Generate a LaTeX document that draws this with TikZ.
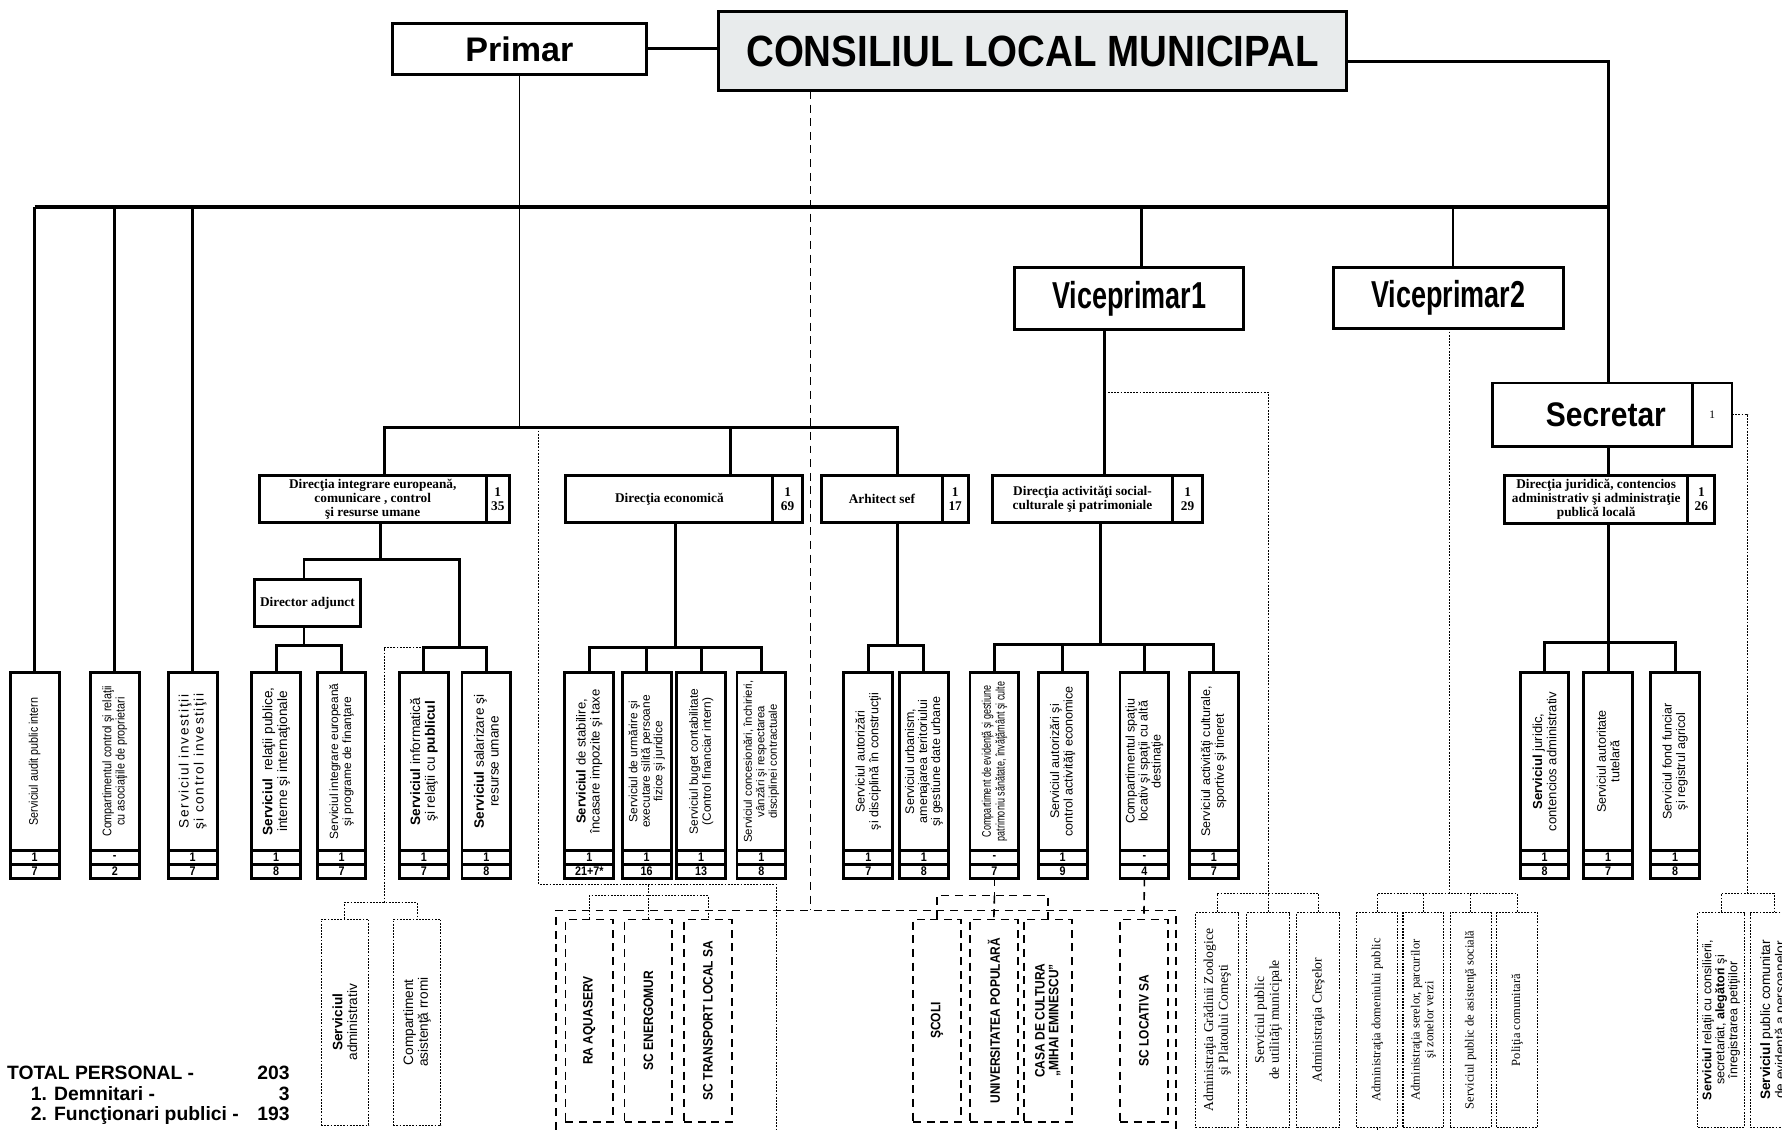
\documentclass[tikz,border=0pt]{standalone}
\usepackage{fontspec}
\setmainfont{Liberation Serif}
\setsansfont{Liberation Sans}
\newfontfamily\headsf[FakeStretch=0.88]{Liberation Sans}
\newfontfamily\narrowsf[FakeStretch=0.72]{Liberation Sans}
\newfontfamily\condsf[FakeStretch=0.86]{Liberation Sans}
\newfontfamily\widesf[LetterSpace=12]{Liberation Sans}
\usetikzlibrary{positioning}
\definecolor{councilgray}{HTML}{E8EBEC}
\newcommand{\fsz}[2]{\fontsize{#1}{#2}\selectfont}

% service box: upright frame, rotated text, two count cells below
\newcommand{\svc}[6][]{%
    \node[svcbox] (#2) at (#3,670) {};
    \node[svctext, #1] (#2t) at (#2) {#4};
    \node[svccell, below=0pt of #2] (#2a) {#5};
    \node[svccell, below=0pt of #2a] (#2b) {#6};
}
% frame with rotated text only
\newcommand{\sidebox}[5][]{%
    \node[#3] (#2) at (#4) {};
    \node[rotate=90, align=center, inner sep=0pt, #1] (#2t) at (#2) {#5};
}

\begin{document}
\begin{tikzpicture}[
                x = 1pt, y = -1pt, % pixel grid, y going down
                box/.style = {draw, line width=2.6pt, fill=white, inner sep=0pt, outer sep=0pt},
                topbox/.style = {box, align=center},
                dirbox/.style = {box, minimum height=42pt, align=center,
                    font=\rmfamily\bfseries\fsz{11.7}{12.5}},
                dircell/.style = {dirbox},
                svcbox/.style = {box, minimum width=43pt, minimum height=156pt},
                svccell/.style = {box, minimum width=43pt, minimum height=12.5pt,
                    font=\condsf\bfseries\fsz{11}{11}},
                svctext/.style = {rotate=90, align=center, inner sep=0pt,
                    font=\sffamily\fsz{10.5}{11.5}},
                extbox/.style = {draw, line width=0.9pt, dash pattern=on 1.6pt off 1.2pt,
                    fill=white, inner sep=0pt, minimum width=38pt, minimum height=189pt},
                firmbox/.style = {draw, line width=1.4pt, dash pattern=on 7pt off 5pt,
                    fill=white, inner sep=0pt, minimum width=42pt, minimum height=178pt},
                firmtext/.style = {font=\headsf\bfseries\fsz{12}{12}},
                totals/.style = {inner sep=0pt, font=\sffamily\bfseries\fsz{17}{17}},
                link/.style = {line width=2.6pt},
                thinlink/.style = {line width=1.4pt},
                busline/.style = {line width=3pt},
                dotlink/.style = {line width=0.9pt, dash pattern=on 1.6pt off 1.2pt},
                dashlink/.style = {line width=1.4pt, dash pattern=on 7pt off 5pt}
                ]
                \useasboundingbox (0,0) rectangle (1568,994);
                \clip (0,0) rectangle (1568,994);

                % top level
                \node[topbox, minimum width=224pt, minimum height=45pt,
                    font=\sffamily\bfseries\fsz{30}{30}] (primar) at (457,43) {Primar};
                \node[topbox, fill=councilgray, minimum width=553pt, minimum height=70pt,
                    font=\headsf\bfseries\fsz{38.5}{38.5}] (council) at (908.5,45) {CONSILIUL LOCAL MUNICIPAL};
                \node[topbox, minimum width=201pt, minimum height=55pt,
                    font=\narrowsf\bfseries\fsz{33}{33}] (vice1) at (993.5,262.5) {Viceprimar1};
                \node[topbox, minimum width=203pt, minimum height=54pt,
                    font=\narrowsf\bfseries\fsz{33}{33}] (vice2) at (1274.5,262) {Viceprimar2};
                \node[topbox, minimum width=176pt, minimum height=56pt,
                    font=\headsf\bfseries\fsz{30}{30}] (secr) at (1401,365) {\hspace*{24pt}Secretar};
                \node[topbox, minimum width=35pt, minimum height=56pt,
                    font=\rmfamily\fsz{10}{10}, right=0pt of secr] (secrc) {1};

                % directions
                \node[dirbox, minimum width=200pt] (dinteg) at (328,439)
                    {Direcţia integrare europeană,\\comunicare , control\\şi resurse umane};
                \node[dircell, minimum width=20pt, right=0pt of dinteg] (dintegc) {1\\35};
                \node[dirbox, minimum width=182pt] (deco) at (589,439) {Direcţia economică};
                \node[dircell, minimum width=26pt, right=0pt of deco] (decoc) {1\\69};
                \node[dirbox, minimum width=106pt] (arh) at (776,439) {Arhitect sef};
                \node[dircell, minimum width=23pt, right=0pt of arh] (arhc) {1\\17};
                \node[dirbox, minimum width=159pt] (dact) at (952.5,439)
                    {Direcţia activităţi social-\\culturale şi patrimoniale};
                \node[dircell, minimum width=26pt, right=0pt of dact] (dactc) {1\\29};
                \node[dirbox, minimum width=161pt] (djur) at (1404.5,439.5)
                    {Direcţia juridică, contencios\\administrativ şi administraţie\\publică locală};
                \node[dircell, minimum width=24pt, right=0pt of djur] (djurc) {1\\26};
                \node[dirbox, minimum width=93pt, minimum height=41pt] (diradj) at (270.5,530.5) {Director adjunct};

                % services
                \svc[font=\condsf\fsz{11}{12}]{audit}{30.5}{Serviciul audit public intern}{1}{7}
                \svc[font=\condsf\fsz{11}{11.5}]{control}{101}{Compartimentul control şi relaţii\\cu asociaţiile de proprietari}{-}{2}
                \svc[font=\widesf\fsz{12}{13}]{invest}{169.5}{Serviciul investiţii\\şi control investiţii}{1}{7}
                \svc[font=\sffamily\fsz{12}{13}]{relat}{243}{\textbf{Serviciul}\ \ relaţii publice,\\interne şi internaţionale}{1}{8}
                \svc{integ}{300.5}{Serviciul integrare europeană\\şi programe de finanţare}{1}{7}
                \svc[font=\sffamily\fsz{12}{13}]{inform}{373}{\textbf{Serviciul} informatică\\şi relaţii cu \textbf{publicul}}{1}{7}
                \svc[font=\sffamily\fsz{12}{13}]{salar}{428}{\textbf{Serviciul} salarizare şi\\resurse umane}{1}{8}
                \svc[font=\sffamily\fsz{11.5}{12.5}]{stabil}{518.5}{\textbf{Serviciul} de stabilire,\\încasare impozite şi taxe}{1}{21+7*}
                \svc[font=\sffamily\fsz{10.5}{11}]{urmar}{569}{Serviciul de urmărire şi\\executare silită persoane\\fizice şi juridice}{1}{16}
                \svc{buget}{617}{Serviciul buget contabilitate\\(Control financiar intern)}{1}{13}
                \svc[font=\sffamily\fsz{10}{11}]{conces}{670}{Serviciul concesionări, închirieri,\\vânzări şi respectarea\\disciplinei contractuale}{1}{8}
                \svc[font=\sffamily\fsz{11}{12}]{autcon}{764}{Serviciul autorizări\\şi disciplină în construcţii}{1}{7}
                \svc[font=\sffamily\fsz{11}{11.5}]{urban}{813}{Serviciul urbanism,\\amenajarea teritoriului\\şi gestiune date urbane}{1}{8}
                \svc[font=\narrowsf\fsz{11}{12}]{evid}{875}{Compartiment de evidenţă şi gestiune\\patrimoniu sănătate, învăţământ şi culte}{-}{7}
                \svc[font=\sffamily\fsz{11}{12}]{autec}{935}{Serviciul autorizări şi\\control activităţi economice}{1}{9}
                \svc[font=\sffamily\fsz{11}{11.5}]{spat}{1007}{Compartimentul spaţiu\\locativ şi spaţii cu altă\\destinaţie}{-}{4}
                \svc[font=\sffamily\fsz{11}{12}]{cultur}{1068}{Serviciul activităţi culturale,\\sportive şi tineret}{1}{7}
                \svc[font=\sffamily\fsz{11.5}{12.5}]{jurid}{1359}{\textbf{Serviciul} juridic,\\contencios administrativ}{1}{8}
                \svc[font=\sffamily\fsz{11}{12}]{tutel}{1415}{Serviciul autoritate\\tutelară}{1}{7}
                \svc[font=\sffamily\fsz{11}{12}]{funci}{1474}{Serviciul fond funciar\\şi registrul agricol}{1}{8}

                % dotted subordinate units
                \sidebox[font=\sffamily\fsz{12}{13}]{sadmin}{extbox, minimum width=42pt, minimum height=181pt}{303.5,899.5}{\textbf{Serviciul}\\administrativ}
                \sidebox[font=\sffamily\fsz{12}{13}]{rromi}{extbox, minimum width=42pt, minimum height=181pt}{367,899.5}{Compartiment\\asistenţă rromi}
                \sidebox[font=\rmfamily\fsz{12}{13}]{zoo}{extbox}{1071,897.5}{Administraţia Grădinii Zoologice\\şi Platoului Corneşti}
                \sidebox[font=\rmfamily\fsz{12}{13}]{utilit}{extbox}{1116,897.5}{Serviciul public\\de utilităţi municipale}
                \sidebox[font=\rmfamily\fsz{12}{13}]{cres}{extbox}{1160,897.5}{Administraţia Creşelor}
                \sidebox[font=\rmfamily\fsz{11}{12}]{domen}{extbox, minimum width=36pt}{1212,897.5}{Administraţia domeniului public}
                \sidebox[font=\rmfamily\fsz{11}{12}]{sere}{extbox, minimum width=36pt}{1252.5,897.5}{Administraţia serelor, parcurilor\\şi zonelor verzi}
                \sidebox[font=\rmfamily\fsz{11}{12}]{asist}{extbox, minimum width=36pt}{1294,897.5}{Serviciul public de asistenţă socială}
                \sidebox[font=\rmfamily\fsz{11}{12}]{polit}{extbox, minimum width=36pt}{1335,897.5}{Poliţia comunitară}
                \sidebox[font=\sffamily\fsz{11}{11.5}]{relcons}{extbox, minimum width=41pt}{1514.5,897.5}{\textbf{Serviciul} relaţii cu consilierii,\\secretariat, \textbf{alegători} şi\\înregistrarea petiţiilor}
                \sidebox[font=\sffamily\fsz{12}{13}]{evpers}{extbox, minimum width=42pt}{1561,897.5}{\textbf{Serviciul} public comunitar\\de evidenţă a persoanelor}

                % companies and institutions
                \sidebox[firmtext]{aquas}{firmbox}{518.5,898}{RA AQUASERV}
                \sidebox[firmtext]{energ}{firmbox}{570.5,898}{SC ENERGOMUR}
                \sidebox[firmtext]{transp}{firmbox}{623,898}{SC TRANSPORT LOCAL SA}
                \sidebox[firmtext]{scoli}{firmbox}{824.5,898}{ŞCOLI}
                \sidebox[firmtext]{univ}{firmbox}{874.5,898}{UNIVERSITATEA POPULARĂ}
                \sidebox[firmtext]{casa}{firmbox}{922,898}{CASA DE CULTURA\\„MIHAI EMINESCU”}
                \sidebox[firmtext]{locativ}{firmbox}{1006.5,898}{SC LOCATIV SA}

                % totals
                \node[totals, anchor=base west] (tot) at (6,950) {TOTAL PERSONAL -};
                \node[totals, anchor=base east] (totn) at (255,950) {203};
                \node[totals, anchor=base west] (dem) at (27,968) {1. Demnitari -};
                \node[totals, anchor=base east] (demn) at (255,968) {3};
                \node[totals, anchor=base west] (fp) at (27,986) {2. Funcţionari publici -};
                \node[totals, anchor=base east] (fpn) at (255,986) {193};

                % council, bus and vice mayors
                \coordinate (busl) at (30.5,182);
                \coordinate (busr) at (1415,182);
                \draw[link] (primar.east) -- (primar.east -| council.west);
                \draw[link] ([yshift=-9pt]council.east) -| (busr) -- (busr |- secr.north);
                \draw[busline] (busl) -- (busr);
                \draw[link] (busl) -- (audit.north);
                \draw[link] (control.north |- busl) -- (control.north);
                \draw[link] (invest.north |- busl) -- (invest.north);
                \draw[link] ([xshift=11pt]vice1.north |- busl) -- ([xshift=11pt]vice1.north);
                \draw[link] ([xshift=4pt]vice2.north |- busl) -- ([xshift=4pt]vice2.north);

                % mayor branch
                \coordinate (pj) at (457,376);
                \draw[thinlink] (primar.south) -- (pj);
                \draw[link] ([xshift=10pt]dinteg.north) |- ([xshift=14pt]arh.north |- pj) -- ([xshift=14pt]arh.north);
                \draw[link] ([xshift=54pt]deco.north |- pj) -- ([xshift=54pt]deco.north);

                \coordinate (ij) at (335,492);
                \coordinate (infj) at (404,570);
                \draw[link] ([xshift=7pt]dinteg.south) -- (ij);
                \draw[link] ([xshift=-3pt]diradj.north) |- (ij) -| (infj);
                \draw[link] ([xshift=-3pt]diradj.south) -- ++(0,17);
                \draw[link] (relat.north) -- ++(0,-24) -| (integ.north);
                \draw[link] (inform.north) |- (infj) -| (salar.north);
                \coordinate (admj) at (338,794);
                \draw[dotlink] (inform.north |- infj) -| (admj);
                \draw[dotlink] (sadmin.north) |- (admj) -| (rromi.north);

                \coordinate (ecoj) at (594,570);
                \draw[link] ([xshift=5pt]deco.south) -- (ecoj);
                \draw[link] (stabil.north) |- (ecoj) -| (conces.north);
                \draw[link] (urmar.north) -- (urmar.north |- ecoj);
                \draw[link] (buget.north) -- (buget.north |- ecoj);

                \draw[link] ([xshift=14pt]arh.south) -- ++(0,108);
                \draw[link] (autcon.north) -- ++(0,-24) -| (urban.north);

                % companies under the council
                \coordinate (ed1) at (474,376);
                \coordinate (ed2) at (474,778);
                \coordinate (ed3) at (683,778);
                \coordinate (ed4) at (683,994);
                \draw[dotlink] (ed1) -- (ed2) -- (ed3) -- (ed4);
                \coordinate (rab) at (570.5,788);
                \draw[dotlink] (aquas.north) |- (rab) -| (transp.north);
                \draw[dotlink] (energ.north) -- (energ.north |- ed2);

                \coordinate (cj) at (713,801);
                \coordinate (fl) at (489,801);
                \coordinate (fr) at (1035,801);
                \coordinate (flb) at (489,994);
                \coordinate (frb) at (1035,994);
                \draw[dashlink] ([xshift=-195.5pt]council.south) -- (cj);
                \draw[dashlink] (flb) -- (fl) -- (fr) -- (frb);

                % vice mayor 1 branch
                \draw[link] ([xshift=-21.5pt]vice1.south) -- ([xshift=19.5pt]dact.north);
                \coordinate (v1j) at (972,345);
                \coordinate (v1b) at (1116,786);
                \draw[dotlink] (v1j) -| (v1b);
                \draw[dotlink] (zoo.north) |- (v1b) -| (cres.north);
                \draw[dotlink] (utilit.north) -- (v1b);
                \coordinate (actj) at (968,567);
                \draw[link] ([xshift=15.5pt]dact.south) -- (actj);
                \draw[link] (evid.north) |- (actj) -| (cultur.north);
                \draw[link] (autec.north) -- (autec.north |- actj);
                \draw[link] (spat.north) -- (spat.north |- actj);
                \draw[dashlink] (evidb.south) -- ++(0,15) coordinate (evj);
                \draw[dashlink] (scoli.north) |- (evj) -| (casa.north);
                \draw[dashlink] (evj) -- (univ.north);
                \draw[dashlink] (spatb.south) -- (locativ.north);

                % vice mayor 2 branch
                \coordinate (v2b) at (1275,786);
                \draw[dotlink] ([xshift=0.5pt]vice2.south) -- (v2b);
                \draw[dotlink] (domen.north) |- (v2b) -| (polit.north);
                \draw[dotlink] (sere.north) -- (sere.north |- v2b);
                \draw[dotlink] (asist.north) -- (asist.north |- v2b);
                \draw[dotlink] (domen.south) -- ++(0,10);

                % secretary branch
                \coordinate (sj) at (1415,565);
                \draw[link] (busr |- secr.south) -- (busr |- djur.north);
                \draw[link] (busr |- djur.south) -- (sj);
                \draw[link] (jurid.north) |- (sj) -| (funci.north);
                \draw[link] (tutel.north) -- (tutel.north |- sj);
                \coordinate (sb) at (1538,786);
                \draw[dotlink] (secrc.east) -| (sb);
                \draw[dotlink] (relcons.north) |- (sb) -| (evpers.north);
            \end{tikzpicture}
\end{document}
